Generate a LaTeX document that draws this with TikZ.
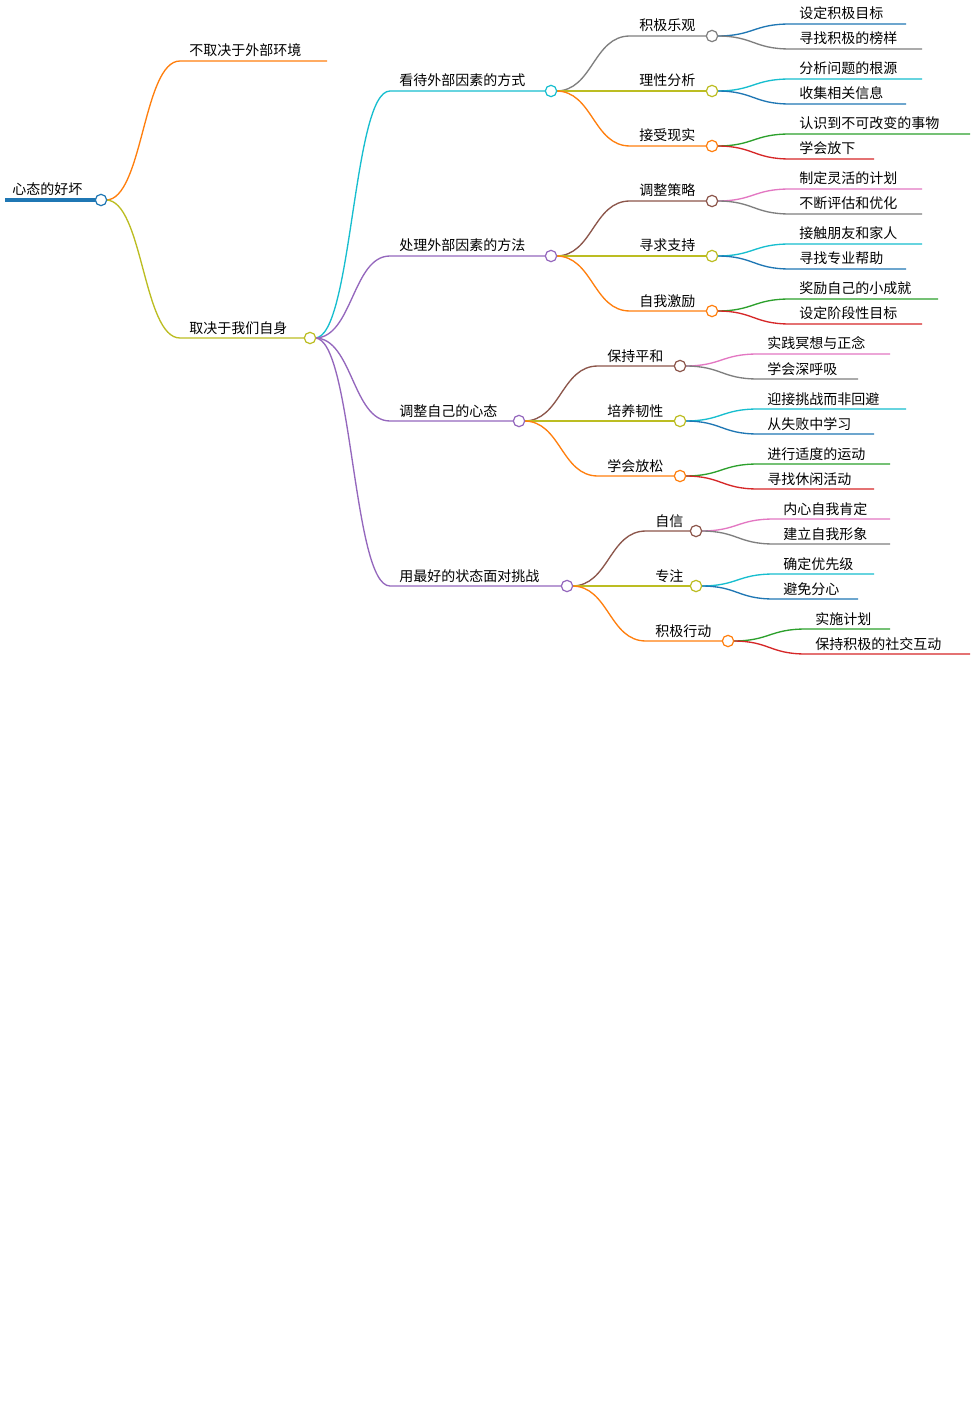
\documentclass[tikz,border=0pt]{standalone}
\usepackage{fontspec}
\setmainfont{Noto Sans CJK SC}
\definecolor{cB}{HTML}{1F77B4}\definecolor{cO}{HTML}{FF7F0E}\definecolor{cY}{HTML}{BCBD22}
\definecolor{cC}{HTML}{17BECF}\definecolor{cP}{HTML}{9467BD}\definecolor{cBr}{HTML}{8C564B}
\definecolor{cG}{HTML}{7F7F7F}\definecolor{cPk}{HTML}{E377C2}\definecolor{cGr}{HTML}{2CA02C}
\definecolor{cR}{HTML}{D62728}
\tikzset{lbl/.style={anchor=base west,inner sep=0pt,font=\fontsize{10.5pt}{12pt}\selectfont},
 knob/.style={circle,draw,fill=white,minimum size=8.5pt,inner sep=0pt,line width=0.9pt}}
% parent-x parent-y x0 x1 y color text
\newcommand\mm[7]{%
 \draw[#6,line width=1pt] (#1,#2) .. controls ({(#1+#3)/2},#2) and ({(#1+#3)/2},#5) .. (#3,#5) -- (#4,#5);
 \node[lbl] at ({#3+9},{#5-5}) {#7};}
\newcommand\kn[3]{\node[knob,draw=#3] at (#1,#2) {};}
\begin{document}
\begin{tikzpicture}[x=0.75pt,y=-0.75pt]
\useasboundingbox[fill=white] (0,0) rectangle (976,1426);
\draw[cB,line width=2.5pt] (5,200) -- (100,200);
\node[lbl] at (12,195) {心态的好坏};
\mm{106}{200}{180}{327}{61}{cO}{不取决于外部环境}
\mm{106}{200}{180}{304}{338}{cY}{取决于我们自身}
\mm{315}{338}{390}{545}{91}{cC}{看待外部因素的方式}
\mm{315}{338}{390}{545}{256}{cP}{处理外部因素的方法}
\mm{315}{338}{390}{513}{421}{cP}{调整自己的心态}
\mm{315}{338}{390}{561}{586}{cP}{用最好的状态面对挑战}
% group 1
\mm{556}{91}{630}{706}{36}{cG}{积极乐观}
\mm{556}{91}{630}{706}{91}{cY}{理性分析}
\mm{556}{91}{630}{706}{146}{cO}{接受现实}
\mm{717}{36}{790}{906}{24}{cB}{设定积极目标}
\mm{717}{36}{790}{922}{49}{cG}{寻找积极的榜样}
\mm{717}{91}{790}{922}{79}{cC}{分析问题的根源}
\mm{717}{91}{790}{906}{104}{cB}{收集相关信息}
\mm{717}{146}{790}{970}{134}{cGr}{认识到不可改变的事物}
\mm{717}{146}{790}{874}{159}{cR}{学会放下}
% group 2
\mm{556}{256}{630}{706}{201}{cBr}{调整策略}
\mm{556}{256}{630}{706}{256}{cY}{寻求支持}
\mm{556}{256}{630}{706}{311}{cO}{自我激励}
\mm{717}{201}{790}{922}{189}{cPk}{制定灵活的计划}
\mm{717}{201}{790}{922}{214}{cG}{不断评估和优化}
\mm{717}{256}{790}{922}{244}{cC}{接触朋友和家人}
\mm{717}{256}{790}{906}{269}{cB}{寻找专业帮助}
\mm{717}{311}{790}{938}{299}{cGr}{奖励自己的小成就}
\mm{717}{311}{790}{922}{324}{cR}{设定阶段性目标}
% group 3
\mm{524}{421}{598}{674}{366}{cBr}{保持平和}
\mm{524}{421}{598}{674}{421}{cY}{培养韧性}
\mm{524}{421}{598}{674}{476}{cO}{学会放松}
\mm{685}{366}{758}{890}{354}{cPk}{实践冥想与正念}
\mm{685}{366}{758}{858}{379}{cG}{学会深呼吸}
\mm{685}{421}{758}{906}{409}{cC}{迎接挑战而非回避}
\mm{685}{421}{758}{874}{434}{cB}{从失败中学习}
\mm{685}{476}{758}{890}{464}{cGr}{进行适度的运动}
\mm{685}{476}{758}{874}{489}{cR}{寻找休闲活动}
% group 4
\mm{572}{586}{646}{690}{531}{cBr}{自信}
\mm{572}{586}{646}{690}{586}{cY}{专注}
\mm{572}{586}{646}{722}{641}{cO}{积极行动}
\mm{701}{531}{774}{890}{519}{cPk}{内心自我肯定}
\mm{701}{531}{774}{890}{544}{cG}{建立自我形象}
\mm{701}{586}{774}{874}{574}{cC}{确定优先级}
\mm{701}{586}{774}{858}{599}{cB}{避免分心}
\mm{733}{641}{806}{890}{629}{cGr}{实施计划}
\mm{733}{641}{806}{970}{654}{cR}{保持积极的社交互动}
% knobs
\kn{101}{200}{cB}\kn{310}{338}{cY}
\kn{551}{91}{cC}\kn{551}{256}{cP}\kn{519}{421}{cP}\kn{567}{586}{cP}
\kn{712}{36}{cG}\kn{712}{91}{cY}\kn{712}{146}{cO}
\kn{712}{201}{cBr}\kn{712}{256}{cY}\kn{712}{311}{cO}
\kn{680}{366}{cBr}\kn{680}{421}{cY}\kn{680}{476}{cO}
\kn{696}{531}{cBr}\kn{696}{586}{cY}\kn{728}{641}{cO}
\end{tikzpicture}
\end{document}
